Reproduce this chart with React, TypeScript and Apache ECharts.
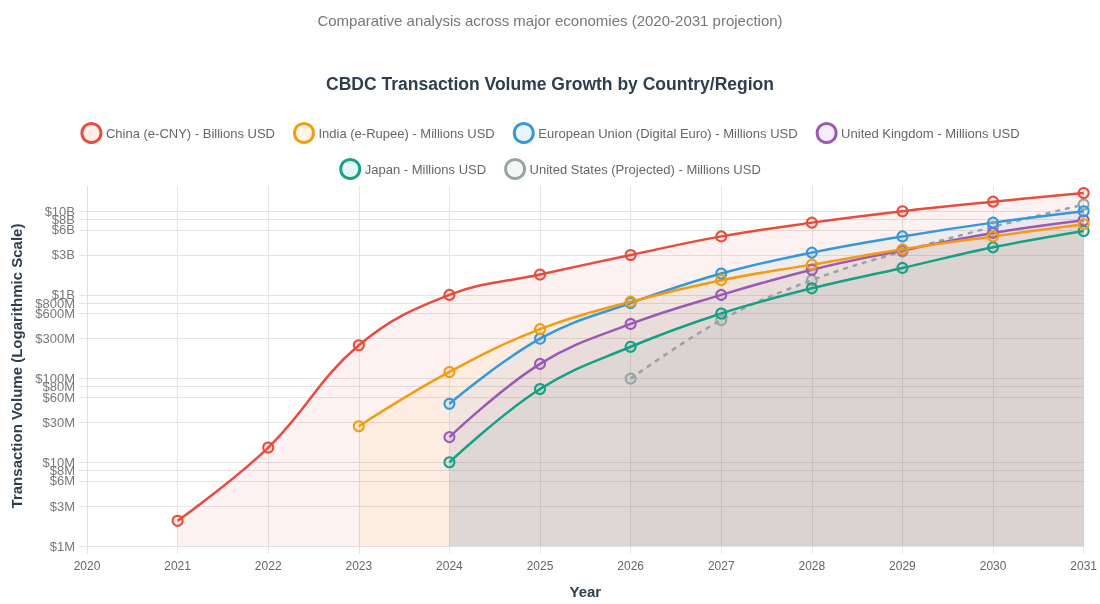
import { useEffect, useRef } from "react";
import * as echarts from "echarts";

const FONT = "'Liberation Sans', Arial, Helvetica, sans-serif";

const subtitleText = "Comparative analysis across major economies (2020-2031 projection)";
const titleText = "CBDC Transaction Volume Growth by Country/Region";

// Values are in millions of USD, as plotted on the shared log axis
const chinaStart = 2021;
const chinaValues = [2, 15, 250, 1000, 1750, 3000, 5000, 7300, 10000, 13000, 16500];
const indiaStart = 2023;
const indiaValues = [27, 120, 390, 830, 1500, 2300, 3500, 5000, 7000];
const euStart = 2024;
const euValues = [50, 300, 800, 1800, 3200, 5000, 7300, 10000];
const ukStart = 2024;
const ukValues = [20, 150, 450, 1000, 2000, 3400, 5500, 7800];
const japanStart = 2024;
const japanValues = [10, 75, 240, 600, 1200, 2100, 3700, 5800];
const usStart = 2026;
const usValues = [100, 500, 1500, 3300, 6500, 12000];

const yTickValues = [1, 3, 6, 8, 10, 30, 60, 80, 100, 300, 600, 800, 1000, 3000, 6000, 8000, 10000];
const yAxisMax = 20000;

const seriesNames = [
  "China (e-CNY) - Billions USD",
  "India (e-Rupee) - Millions USD",
  "European Union (Digital Euro) - Millions USD",
  "United Kingdom - Millions USD",
  "Japan - Millions USD",
  "United States (Projected) - Millions USD",
];

const fmtY = (v: number) => {
  if (!yTickValues.includes(v)) return "";
  return v >= 1000 ? `$${v / 1000}B` : `$${v}M`;
};

export default function App() {
  const ref = useRef<HTMLDivElement>(null);
  useEffect(() => {
    const chart = echarts.init(ref.current!, null, { renderer: "svg" });
    const defs = [
      { name: seriesNames[0], color: "#e74c3c", fill: "rgba(231,76,60,0.1)", start: chinaStart, values: chinaValues, dashed: false },
      { name: seriesNames[1], color: "#f39c12", fill: "rgba(243,156,18,0.1)", start: indiaStart, values: indiaValues, dashed: false },
      { name: seriesNames[2], color: "#3498db", fill: "rgba(52,152,219,0.1)", start: euStart, values: euValues, dashed: false },
      { name: seriesNames[3], color: "#9b59b6", fill: "rgba(155,89,182,0.1)", start: ukStart, values: ukValues, dashed: false },
      { name: seriesNames[4], color: "#16a085", fill: "rgba(22,160,133,0.1)", start: japanStart, values: japanValues, dashed: false },
      { name: seriesNames[5], color: "#95a5a6", fill: "rgba(149,165,166,0.1)", start: usStart, values: usValues, dashed: true },
    ];
    const legendCommon = {
      left: "center",
      icon: "circle",
      itemWidth: 19,
      itemHeight: 19,
      itemGap: 18,
      itemStyle: { borderWidth: 3 },
      textStyle: { fontSize: 13, color: "#666", fontFamily: FONT },
    };
    const axisNameStyle = { fontSize: 15, fontWeight: "bold", color: "#2c3e50", fontFamily: FONT };
    chart.setOption({
      animation: false,
      textStyle: { fontFamily: FONT },
      title: [
        { text: subtitleText, left: "center", top: 8, textStyle: { fontSize: 15, color: "#777", fontWeight: "normal", fontFamily: FONT } },
        { text: titleText, left: "center", top: 70, textStyle: { fontSize: 17.5, color: "#2c3e50", fontWeight: "bold", fontFamily: FONT } },
      ],
      legend: [
        { ...legendCommon, top: 117, data: seriesNames.slice(0, 4) },
        { ...legendCommon, top: 153, data: seriesNames.slice(4) },
      ],
      grid: { left: 87, right: 14, top: 186, bottom: 52, containLabel: false },
      xAxis: {
        type: "value",
        min: 2020,
        max: 2031,
        interval: 1,
        name: "Year",
        nameLocation: "middle",
        nameGap: 38,
        nameTextStyle: axisNameStyle,
        axisLine: { show: true, lineStyle: { color: "#e0e0e0" } },
        axisTick: { show: true, length: 8, lineStyle: { color: "#e5e5e5" } },
        axisLabel: { formatter: (v: number) => String(v), color: "#666", fontSize: 12, margin: 14 },
        splitLine: { show: true, lineStyle: { color: "#e5e5e5" } },
      },
      yAxis: {
        type: "log",
        logBase: 10,
        min: 1,
        max: yAxisMax,
        name: "Transaction Volume (Logarithmic Scale)",
        nameLocation: "middle",
        nameGap: 62,
        nameTextStyle: axisNameStyle,
        axisLine: { show: true, lineStyle: { color: "#e0e0e0" } },
        axisTick: { show: true, length: 8, lineStyle: { color: "#e5e5e5" }, customValues: yTickValues },
        axisLabel: {
          customValues: [...yTickValues, yAxisMax],
          formatter: fmtY,
          color: "#777",
          fontSize: 13,
          margin: 12,
        },
        splitLine: { show: true, lineStyle: { color: "#e5e5e5" } },
      },
      series: [...defs].reverse().map((d) => ({
        name: d.name,
        type: "line",
        data: d.values.map((v, i) => [d.start + i, v]),
        smooth: 0.4,
        symbol: "circle",
        symbolSize: 10,
        showSymbol: true,
        lineStyle: { color: d.color, width: 2.5, type: d.dashed ? [5, 5] : "solid" },
        itemStyle: { color: d.fill, borderColor: d.color, borderWidth: 2 },
        areaStyle: { color: d.fill, origin: "start" },
        emphasis: { disabled: true },
      })),
    });
    return () => chart.dispose();
  }, []);
  return <div ref={ref} style={{ position: "fixed", left: 0, top: 0, width: 1100, height: 604 }} />;
}
